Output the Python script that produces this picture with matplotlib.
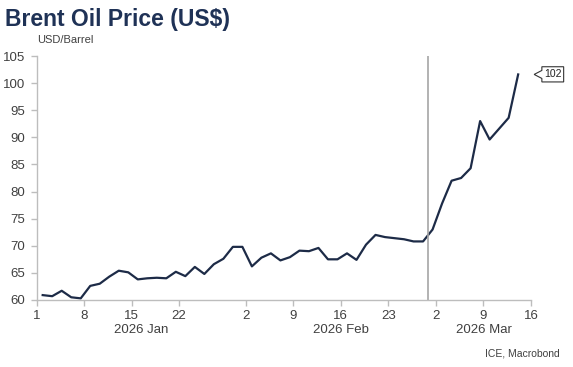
import numpy as np
import pandas as pd
import matplotlib
matplotlib.use("Agg")
import matplotlib.pyplot as plt
from matplotlib.patches import Polygon
from matplotlib.transforms import IdentityTransform

plt.rcParams["font.family"] = ["Liberation Sans", "DejaVu Sans"]

# Brent, USD/barrel, business days 2 Jan - 13 Mar 2026
dates = pd.bdate_range("2026-01-02", "2026-03-13")
brent = [
    60.9, 60.7, 61.7, 60.5, 60.3, 62.6, 63.0, 64.3, 65.4, 65.1,
    63.8, 64.0, 64.1, 64.0, 65.2, 64.4, 66.1, 64.8, 66.6, 67.6,
    69.8, 69.8, 66.2, 67.8, 68.6, 67.3, 67.9, 69.1, 69.0, 69.6,
    67.5, 67.5, 68.6, 67.4, 70.2, 72.0, 71.6, 71.4, 71.2, 70.8,
    70.8, 73.0, 77.8, 82.0, 82.5, 84.3, 93.0, 89.6, 91.6, 93.6,
    101.6,
]

tick_dates = ["2026-01-01", "2026-01-08", "2026-01-15", "2026-01-22",
              "2026-02-02", "2026-02-09", "2026-02-16", "2026-02-23",
              "2026-03-02", "2026-03-09", "2026-03-16"]
tick_labels = ["1", "8", "15", "22", "2", "9", "16", "23", "2", "9", "16"]
month_starts = ["2026-01-01", "2026-02-01", "2026-03-01", "2026-04-01"]
month_labels = ["2026 Jan", "2026 Feb", "2026 Mar"]
event_date = pd.Timestamp("2026-02-28")

start = np.datetime64("2026-01-01")
end = np.datetime64("2026-03-16")


def bpos(d):
    # position on a weekday-only time axis
    return np.busday_count(start, np.array(d, dtype="datetime64[D]"))


x = bpos(dates.values.astype("datetime64[D]")) - 0.35
xmax = bpos(end)

navy = "#1d2b47"
grey = "#bdbdbd"
txt = "#404040"

fig = plt.figure(figsize=(5.73, 3.67), dpi=100)
ax = fig.add_axes([0.0637, 0.1826, 0.863, 0.6648])

ax.plot(x, brent, color=navy, lw=1.6, solid_joinstyle="round")

# vertical marker between last Feb and first Mar observation
before = x[dates < event_date].max()
after = x[dates > event_date].min()
ax.axvline((before + after) / 2, color="#a6a6a6", lw=1.2)

ax.set_xlim(0, xmax)
ax.set_ylim(60, 105)
ax.set_yticks(np.arange(60, 106, 5))
ax.set_xticks(bpos(tick_dates))
ax.set_xticklabels(tick_labels)

for s in ["top", "right"]:
    ax.spines[s].set_visible(False)
for s in ["left", "bottom"]:
    ax.spines[s].set_color(grey)
    ax.spines[s].set_linewidth(1.0)
ax.tick_params(axis="both", colors=grey, labelcolor=txt, labelsize=9.5,
               length=4, width=1.0, direction="out")
ax.tick_params(axis="y", pad=4)
ax.tick_params(axis="x", pad=3)

# month labels centred under the visible part of each month
mpos = bpos(month_starts)
for i, lab in enumerate(month_labels):
    c = (mpos[i] + min(mpos[i + 1], xmax)) / 2
    ax.text(c, -0.125, lab, transform=ax.get_xaxis_transform(),
            ha="center", va="center", fontsize=9.5, color=txt)

# last value tag
fig.canvas.draw()
px, py = ax.transData.transform((x[-1], brent[-1]))
tip = np.array([px + 16, py])
verts = np.array([[0, 0], [7.7, 4], [7.7, 7.7], [29.5, 7.7],
                  [29.5, -7.5], [7.7, -7.5], [7.7, -4]]) + tip
ax.add_patch(Polygon(verts, closed=True, transform=IdentityTransform(),
                     facecolor="white", edgecolor="#333333", lw=0.8,
                     clip_on=False, zorder=5))
ax.annotate(f"{brent[-1]:.0f}", xy=(x[-1], brent[-1]),
            xytext=(16 + 18.6, 0), textcoords="offset pixels",
            ha="center", va="center", fontsize=7.5, color="#222222",
            zorder=6, annotation_clip=False)

fig.text(0.009, 0.977, "Brent Oil Price (US$)", ha="left", va="top",
         fontsize=16.5, fontweight="bold", color="#1f3256")
fig.text(37 / 573, 1 - 40 / 367, "USD/Barrel", ha="left", va="center",
         fontsize=8, color=txt)
fig.text(560 / 573, 1 - 353 / 367, "ICE, Macrobond", ha="right",
         va="center", fontsize=7.5, color=txt)

fig.savefig("out.png", dpi=100)
